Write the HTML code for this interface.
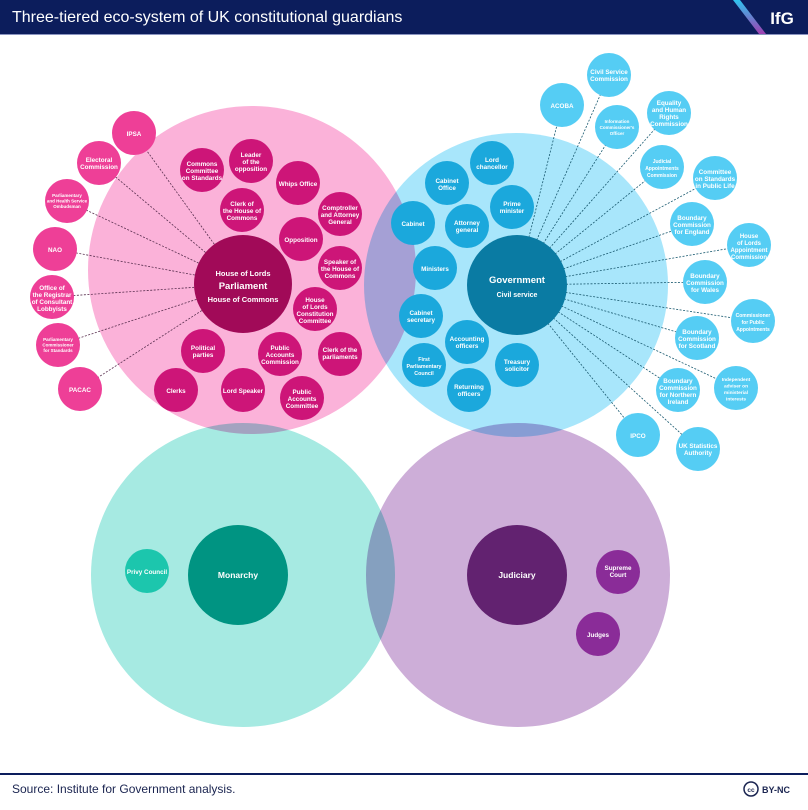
<!DOCTYPE html>
<html><head><meta charset="utf-8"><style>
html,body{margin:0;padding:0;background:#fff;width:808px;height:810px;overflow:hidden}
svg{display:block}
text{font-family:"Liberation Sans",sans-serif;font-weight:bold;fill:#fff;text-anchor:middle}
.big{mix-blend-mode:multiply}
</style></head><body>
<svg width="808" height="810" viewBox="0 0 808 810" xmlns="http://www.w3.org/2000/svg">
<rect x="0" y="0" width="808" height="34" fill="#0c1d5c"/>
<rect x="0" y="34" width="808" height="1" fill="#8a94c0"/>
<text x="12" y="22" style="font-weight:normal;text-anchor:start;font-size:16px">Three-tiered eco-system of UK constitutional guardians</text>
<defs><linearGradient id="g" x1="0" y1="0" x2="0" y2="1"><stop offset="0" stop-color="#2fc4ef"/><stop offset="1" stop-color="#a03fb0"/></linearGradient></defs>
<polygon points="733,0 740,0 766,34 759,34" fill="url(#g)"/>
<text x="782" y="24" style="font-size:17px;">IfG</text>

<g>
<circle class="big" cx="252" cy="270" r="164" fill="#fbb2d9"/>
<circle class="big" cx="516" cy="285" r="152" fill="#a8e6fb"/>
<circle class="big" cx="243" cy="575" r="152" fill="#a6eae2"/>
<circle class="big" cx="518" cy="575" r="152" fill="#cdaed8"/>
</g>

<g stroke="#5a3050" stroke-width="0.8" stroke-dasharray="2,1.5" fill="none">
<line x1="243" y1="284" x2="134" y2="133"/>
<line x1="243" y1="284" x2="99" y2="163"/>
<line x1="243" y1="284" x2="67" y2="201"/>
<line x1="243" y1="284" x2="55" y2="249"/>
<line x1="243" y1="284" x2="52" y2="297"/>
<line x1="243" y1="284" x2="58" y2="345"/>
<line x1="243" y1="284" x2="80" y2="389"/>
</g>
<g stroke="#1a5a70" stroke-width="0.8" stroke-dasharray="2,1.5" fill="none">
<line x1="517" y1="285" x2="562" y2="105"/>
<line x1="517" y1="285" x2="609" y2="75"/>
<line x1="517" y1="285" x2="617" y2="127"/>
<line x1="517" y1="285" x2="669" y2="113"/>
<line x1="517" y1="285" x2="662" y2="167"/>
<line x1="517" y1="285" x2="715" y2="178"/>
<line x1="517" y1="285" x2="692" y2="224"/>
<line x1="517" y1="285" x2="749" y2="245"/>
<line x1="517" y1="285" x2="705" y2="282"/>
<line x1="517" y1="285" x2="753" y2="321"/>
<line x1="517" y1="285" x2="697" y2="338"/>
<line x1="517" y1="285" x2="736" y2="388"/>
<line x1="517" y1="285" x2="678" y2="390"/>
<line x1="517" y1="285" x2="638" y2="435"/>
<line x1="517" y1="285" x2="698" y2="449"/>
</g>

<!-- Parliament -->
<circle cx="243" cy="284" r="49" fill="#a10a58"/>
<text x="243" y="276" font-size="7.5">House of Lords</text>
<text x="243" y="289" font-size="9.5">Parliament</text>
<text x="243" y="302" font-size="7.5">House of Commons</text>
<g fill="#cd1578">
<circle cx="202" cy="170" r="22"/><circle cx="251" cy="161" r="22"/><circle cx="298" cy="183" r="22"/>
<circle cx="242" cy="210" r="22"/><circle cx="340" cy="214" r="22"/><circle cx="301" cy="239" r="22"/>
<circle cx="340" cy="268" r="22"/><circle cx="315" cy="309" r="22"/><circle cx="203" cy="351" r="22"/>
<circle cx="280" cy="354" r="22"/><circle cx="340" cy="354" r="22"/><circle cx="176" cy="390" r="22"/>
<circle cx="243" cy="390" r="22"/><circle cx="302" cy="398" r="22"/>
</g>
<g font-size="6.3">
<text x="202" y="166">Commons<tspan x="202" dy="7">Committee</tspan><tspan x="202" dy="7">on Standards</tspan></text>
<text x="251" y="157">Leader<tspan x="251" dy="7">of the</tspan><tspan x="251" dy="7">opposition</tspan></text>
<text x="298" y="186">Whips Office</text>
<text x="242" y="206">Clerk of<tspan x="242" dy="7">the House of</tspan><tspan x="242" dy="7">Commons</tspan></text>
<text x="340" y="210">Comptroller<tspan x="340" dy="7">and Attorney</tspan><tspan x="340" dy="7">General</tspan></text>
<text x="301" y="242">Opposition</text>
<text x="340" y="264">Speaker of<tspan x="340" dy="7">the House of</tspan><tspan x="340" dy="7">Commons</tspan></text>
<text x="315" y="302">House<tspan x="315" dy="7">of Lords</tspan><tspan x="315" dy="7">Constitution</tspan><tspan x="315" dy="7">Committee</tspan></text>
<text x="203" y="350">Political<tspan x="203" dy="7">parties</tspan></text>
<text x="280" y="350">Public<tspan x="280" dy="7">Accounts</tspan><tspan x="280" dy="7">Commission</tspan></text>
<text x="340" y="352">Clerk of the<tspan x="340" dy="7">parliaments</tspan></text>
<text x="176" y="393">Clerks</text>
<text x="243" y="393">Lord Speaker</text>
<text x="302" y="394">Public<tspan x="302" dy="7">Accounts</tspan><tspan x="302" dy="7">Committee</tspan></text>
</g>
<g fill="#ee3f97">
<circle cx="134" cy="133" r="22"/><circle cx="99" cy="163" r="22"/><circle cx="67" cy="201" r="22"/>
<circle cx="55" cy="249" r="22"/><circle cx="52" cy="297" r="22"/><circle cx="58" cy="345" r="22"/>
<circle cx="80" cy="389" r="22"/>
</g>
<g font-size="6.3">
<text x="134" y="136">IPSA</text>
<text x="99" y="162">Electoral<tspan x="99" dy="7">Commission</tspan></text>
<text x="67" y="197" font-size="4.5">Parliamentary<tspan x="67" dy="5.5">and Health Service</tspan><tspan x="67" dy="5.5">Ombudsman</tspan></text>
<text x="55" y="252">NAO</text>
<text x="52" y="290">Office of<tspan x="52" dy="7">the Registrar</tspan><tspan x="52" dy="7">of Consultant</tspan><tspan x="52" dy="7">Lobbyists</tspan></text>
<text x="58" y="341" font-size="4.5">Parliamentary<tspan x="58" dy="5.5">Commissioner</tspan><tspan x="58" dy="5.5">for Standards</tspan></text>
<text x="80" y="392">PACAC</text>
</g>

<!-- Government -->
<circle cx="517" cy="285" r="50" fill="#0a7ba3"/>
<text x="517" y="283" font-size="9.5">Government</text>
<text x="517" y="297" font-size="7">Civil service</text>
<g fill="#1ba8dc">
<circle cx="492" cy="163" r="22"/><circle cx="447" cy="183" r="22"/><circle cx="512" cy="207" r="22"/>
<circle cx="413" cy="223" r="22"/><circle cx="467" cy="226" r="22"/><circle cx="435" cy="268" r="22"/>
<circle cx="421" cy="316" r="22"/><circle cx="467" cy="342" r="22"/><circle cx="517" cy="365" r="22"/>
<circle cx="424" cy="365" r="22"/><circle cx="469" cy="390" r="22"/>
</g>
<g font-size="6.3">
<text x="492" y="162">Lord<tspan x="492" dy="7">chancellor</tspan></text>
<text x="447" y="183">Cabinet<tspan x="447" dy="7">Office</tspan></text>
<text x="512" y="206">Prime<tspan x="512" dy="7">minister</tspan></text>
<text x="413" y="226">Cabinet</text>
<text x="467" y="225">Attorney<tspan x="467" dy="7">general</tspan></text>
<text x="435" y="271">Ministers</text>
<text x="421" y="315">Cabinet<tspan x="421" dy="7">secretary</tspan></text>
<text x="467" y="341">Accounting<tspan x="467" dy="7">officers</tspan></text>
<text x="517" y="364">Treasury<tspan x="517" dy="7">solicitor</tspan></text>
<text x="424" y="361" font-size="5.3">First<tspan x="424" dy="7">Parliamentary</tspan><tspan x="424" dy="7">Council</tspan></text>
<text x="469" y="389">Returning<tspan x="469" dy="7">officers</tspan></text>
</g>
<g fill="#55cdf4">
<circle cx="562" cy="105" r="22"/><circle cx="609" cy="75" r="22"/><circle cx="617" cy="127" r="22"/>
<circle cx="669" cy="113" r="22"/><circle cx="662" cy="167" r="22"/><circle cx="715" cy="178" r="22"/>
<circle cx="692" cy="224" r="22"/><circle cx="749" cy="245" r="22"/><circle cx="705" cy="282" r="22"/>
<circle cx="753" cy="321" r="22"/><circle cx="697" cy="338" r="22"/><circle cx="736" cy="388" r="22"/>
<circle cx="678" cy="390" r="22"/><circle cx="638" cy="435" r="22"/><circle cx="698" cy="449" r="22"/>
</g>
<g font-size="6.3">
<text x="562" y="108">ACOBA</text>
<text x="609" y="74">Civil Service<tspan x="609" dy="7">Commission</tspan></text>
<text x="617" y="123" font-size="4.5">Information<tspan x="617" dy="6">Commissioner's</tspan><tspan x="617" dy="6">Officer</tspan></text>
<text x="669" y="105">Equality<tspan x="669" dy="7">and Human</tspan><tspan x="669" dy="7">Rights</tspan><tspan x="669" dy="7">Commission</tspan></text>
<text x="662" y="163" font-size="5">Judicial<tspan x="662" dy="7">Appointments</tspan><tspan x="662" dy="7">Commission</tspan></text>
<text x="715" y="174">Committee<tspan x="715" dy="7">on Standards</tspan><tspan x="715" dy="7">in Public Life</tspan></text>
<text x="692" y="220">Boundary<tspan x="692" dy="7">Commission</tspan><tspan x="692" dy="7">for England</tspan></text>
<text x="749" y="238" font-size="6">House<tspan x="749" dy="7">of Lords</tspan><tspan x="749" dy="7">Appointment</tspan><tspan x="749" dy="7">Commission</tspan></text>
<text x="705" y="278">Boundary<tspan x="705" dy="7">Commission</tspan><tspan x="705" dy="7">for Wales</tspan></text>
<text x="753" y="317" font-size="5">Commissioner<tspan x="753" dy="7">for Public</tspan><tspan x="753" dy="7">Appointments</tspan></text>
<text x="697" y="334">Boundary<tspan x="697" dy="7">Commission</tspan><tspan x="697" dy="7">for Scotland</tspan></text>
<text x="736" y="381" font-size="4.8">Independent<tspan x="736" dy="6.5">adviser on</tspan><tspan x="736" dy="6.5">ministerial</tspan><tspan x="736" dy="6.5">interests</tspan></text>
<text x="678" y="383">Boundary<tspan x="678" dy="7">Commission</tspan><tspan x="678" dy="7">for Northern</tspan><tspan x="678" dy="7">Ireland</tspan></text>
<text x="638" y="438">IPCO</text>
<text x="698" y="448">UK Statistics<tspan x="698" dy="7">Authority</tspan></text>
</g>

<!-- Monarchy / Judiciary -->
<circle cx="238" cy="575" r="50" fill="#009482"/>
<text x="238" y="578" font-size="8.5">Monarchy</text>
<circle cx="147" cy="571" r="22" fill="#1cc6ad"/>
<text x="147" y="574" font-size="6.3">Privy Council</text>
<circle cx="517" cy="575" r="50" fill="#622270"/>
<text x="517" y="578" font-size="8.5">Judiciary</text>
<circle cx="618" cy="572" r="22" fill="#8a2c98"/>
<text x="618" y="570" font-size="6.3">Supreme<tspan x="618" dy="7">Court</tspan></text>
<circle cx="598" cy="634" r="22" fill="#8a2c98"/>
<text x="598" y="637" font-size="6.3">Judges</text>

<!-- footer -->
<rect x="0" y="773" width="808" height="2" fill="#0c1d5c"/>
<text x="12" y="793" style="font-weight:normal;text-anchor:start;font-size:12px;fill:#1a2450">Source: Institute for Government analysis.</text>
<circle cx="751" cy="789" r="7" fill="none" stroke="#1a2450" stroke-width="1.5"/>
<text x="751" y="792" style="font-size:6.5px;fill:#1a2450">cc</text>
<text x="762" y="793" style="text-anchor:start;font-size:9px;fill:#1a2450">BY-NC</text>
</svg>
</body></html>
